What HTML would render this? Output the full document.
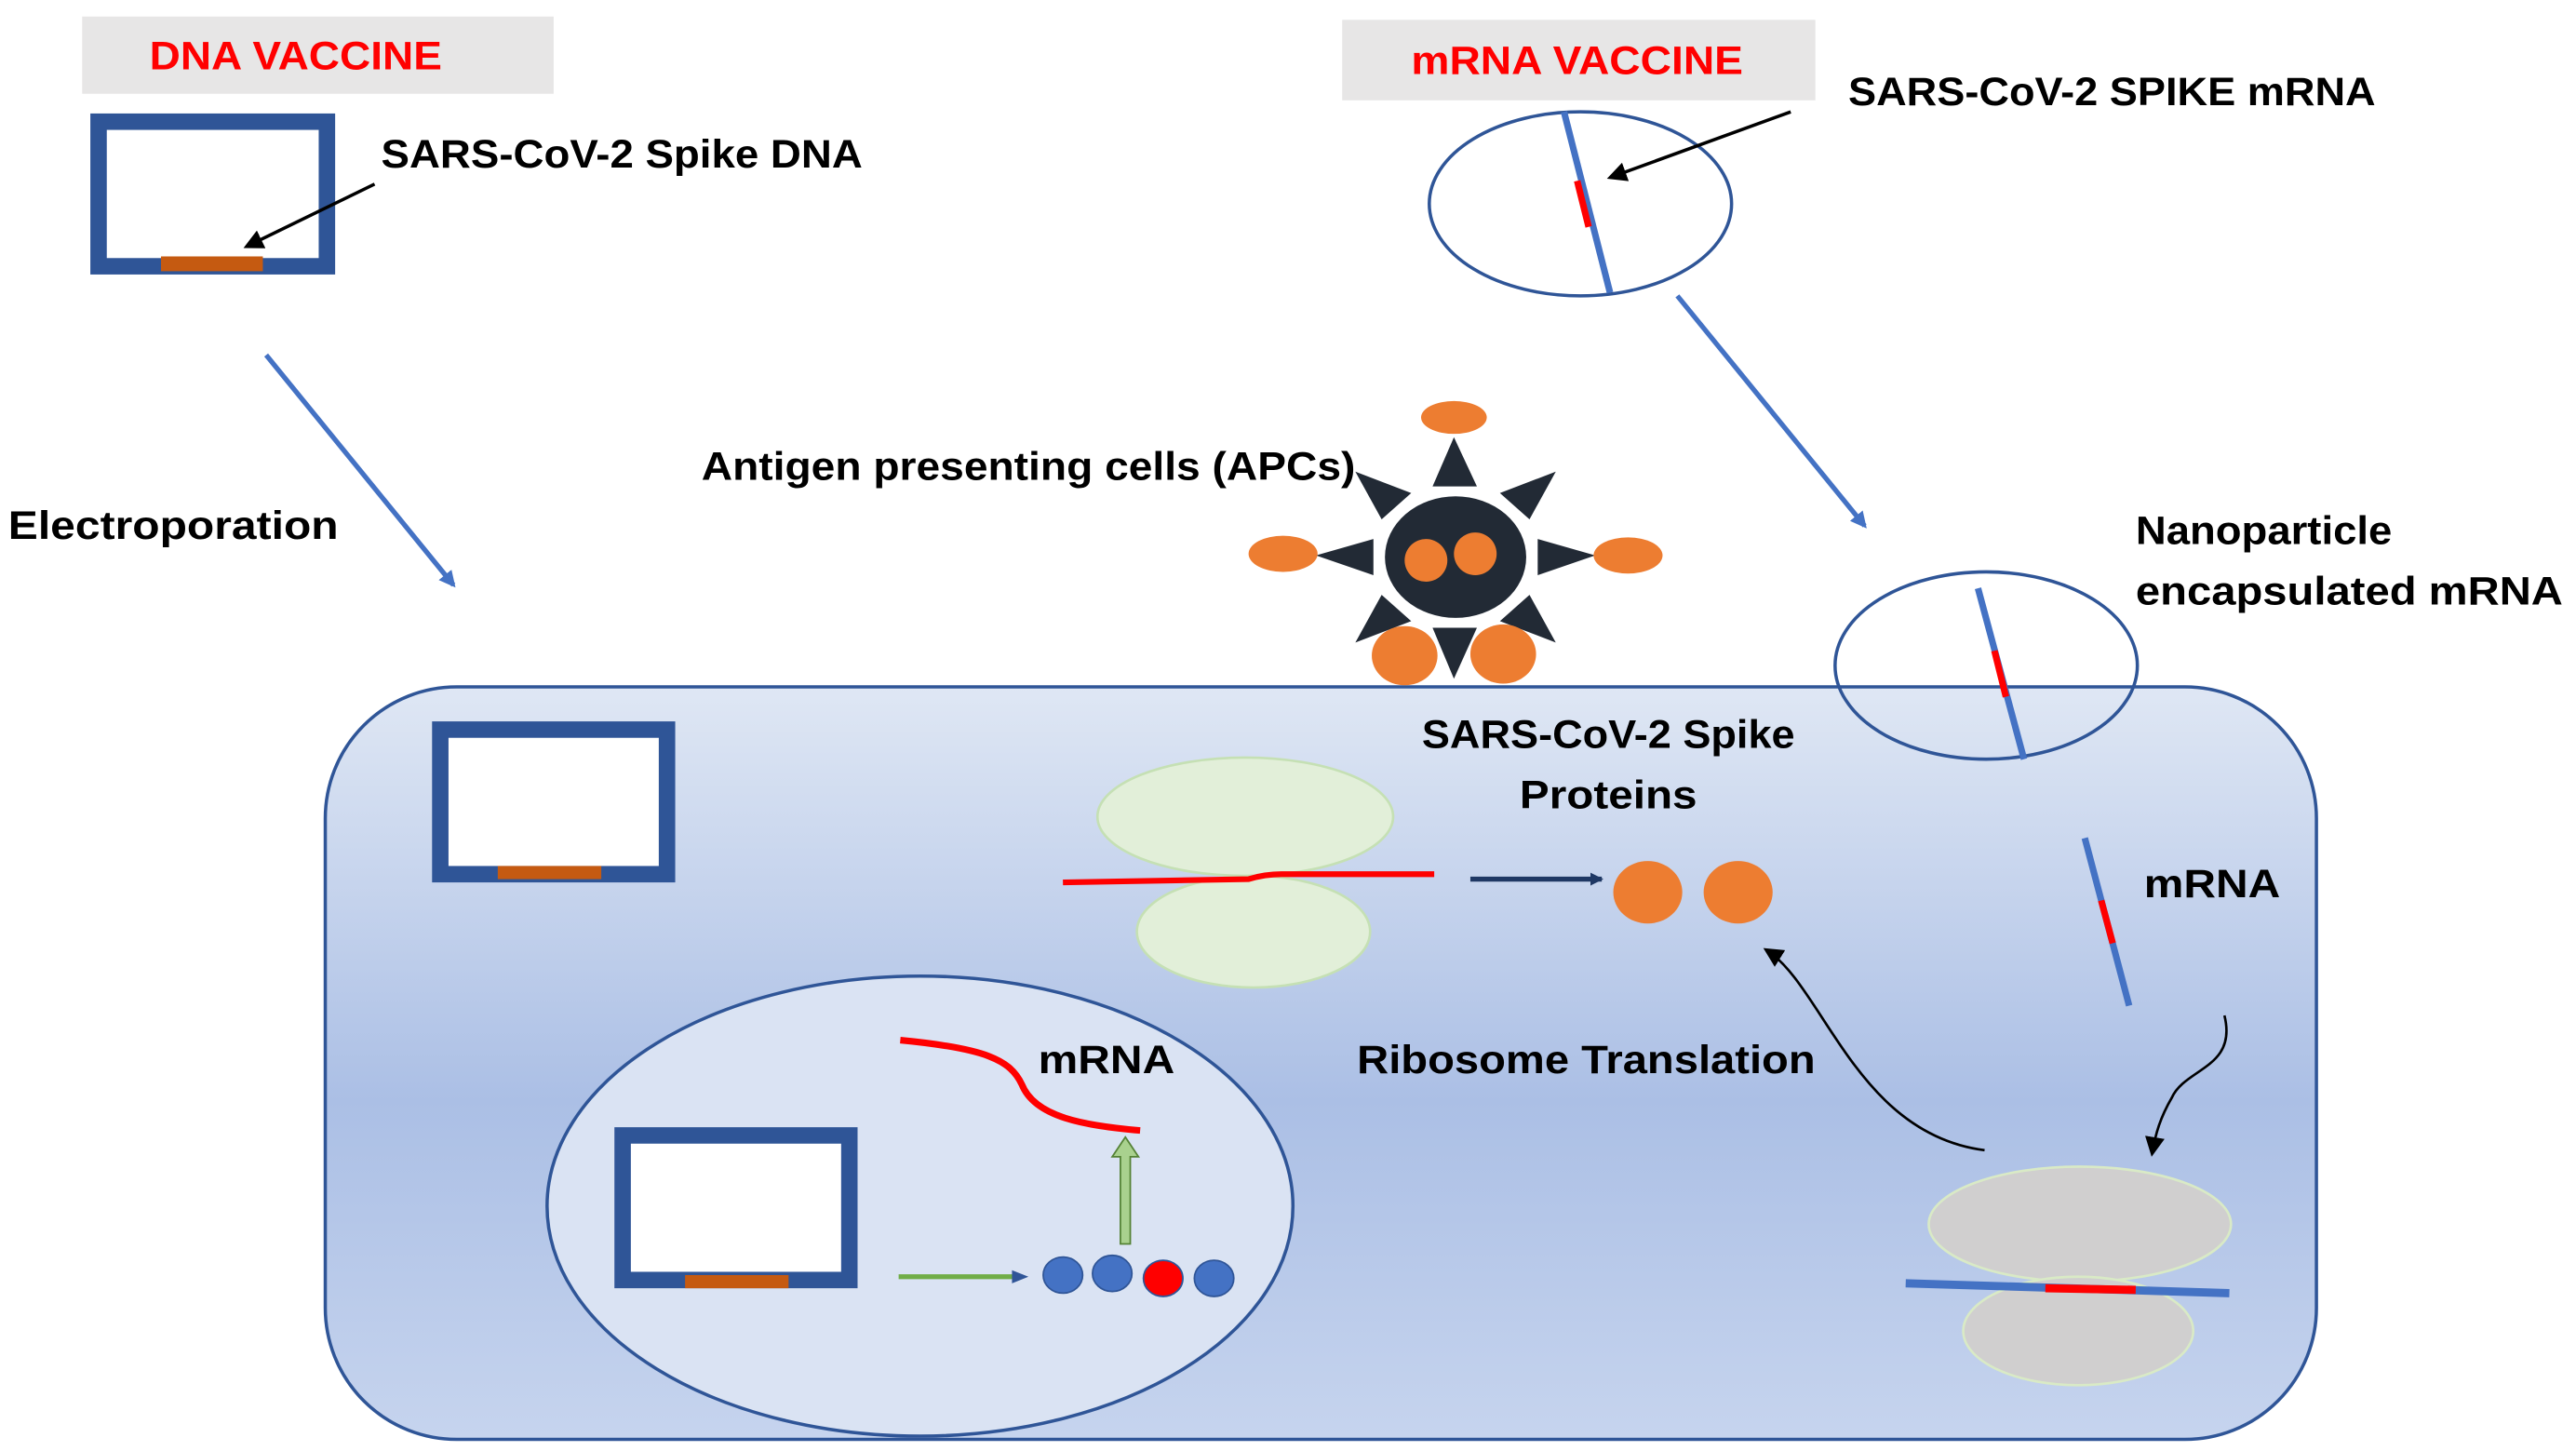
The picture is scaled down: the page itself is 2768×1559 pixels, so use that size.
<!DOCTYPE html>
<html><head><meta charset="utf-8"><style>
html,body{margin:0;padding:0;background:#fff;}
svg{display:block;}
text{font-family:"Liberation Sans",Arial,sans-serif;font-weight:bold;}
</style></head><body>
<svg width="2768" height="1559" viewBox="0 0 1568 883" xmlns="http://www.w3.org/2000/svg">
<defs>
<linearGradient id="cg" x1="0" y1="0" x2="0" y2="1">
<stop offset="0" stop-color="#dfe7f4"/>
<stop offset="0.55" stop-color="#abbfe5"/>
<stop offset="1" stop-color="#c6d4ee"/>
</linearGradient>
<marker id="ab" markerWidth="10" markerHeight="10" refX="8" refY="5" orient="auto" markerUnits="userSpaceOnUse"><path d="M0,0 L10,5 L0,10 z" fill="#4472c4"/></marker>
<marker id="ak" markerWidth="12" markerHeight="12" refX="10" refY="6" orient="auto" markerUnits="userSpaceOnUse"><path d="M0,0 L12,6 L0,12 z" fill="#000"/></marker>
<marker id="an" markerWidth="8" markerHeight="8" refX="7" refY="4" orient="auto" markerUnits="userSpaceOnUse"><path d="M0,0 L8,4 L0,8 z" fill="#1f3864"/></marker>
</defs>
<rect width="1568" height="883" fill="#fff"/>

<!-- DNA vaccine -->
<rect x="50" y="10" width="287" height="47" fill="#e7e6e6"/>
<text x="180" y="42" font-size="24" fill="#ff0000" text-anchor="middle" textLength="178" lengthAdjust="spacingAndGlyphs">DNA VACCINE</text>
<rect x="60" y="74" width="139" height="88" fill="#fff" stroke="#2f5597" stroke-width="10"/>
<rect x="98" y="156" width="62" height="9" fill="#c55a11"/>
<text x="232" y="102" font-size="24" textLength="293" lengthAdjust="spacingAndGlyphs">SARS-CoV-2 Spike DNA</text>
<line x1="228" y1="112" x2="150" y2="150" stroke="#000" stroke-width="2" marker-end="url(#ak)"/>
<line x1="162" y1="216" x2="276" y2="356" stroke="#4472c4" stroke-width="3" marker-end="url(#ab)"/>
<text x="5" y="328" font-size="24" textLength="201" lengthAdjust="spacingAndGlyphs">Electroporation</text>

<!-- mRNA vaccine -->
<rect x="817" y="12" width="288" height="49" fill="#e7e6e6"/>
<text x="960" y="45" font-size="24" fill="#ff0000" text-anchor="middle" textLength="202" lengthAdjust="spacingAndGlyphs">mRNA VACCINE</text>
<ellipse cx="962" cy="124" rx="92" ry="56" fill="#fff" stroke="#2f5597" stroke-width="2"/>
<line x1="952" y1="68" x2="980" y2="178" stroke="#4472c4" stroke-width="4"/>
<line x1="960" y1="110" x2="967" y2="138" stroke="#ff0000" stroke-width="4"/>
<line x1="1090" y1="68" x2="980" y2="108" stroke="#000" stroke-width="2" marker-end="url(#ak)"/>
<text x="1125" y="64" font-size="24" textLength="321" lengthAdjust="spacingAndGlyphs">SARS-CoV-2 SPIKE mRNA</text>
<line x1="1021" y1="180" x2="1135" y2="320" stroke="#4472c4" stroke-width="3" marker-end="url(#ab)"/>

<!-- Cell -->
<rect x="198" y="418" width="1212" height="458" rx="80" ry="80" fill="url(#cg)" stroke="#2f5597" stroke-width="2"/>

<!-- Nanoparticle -->
<ellipse cx="1209" cy="405" rx="92" ry="57" fill="none" stroke="#2f5597" stroke-width="2"/>
<line x1="1204" y1="358" x2="1232" y2="462" stroke="#4472c4" stroke-width="4"/>
<line x1="1214" y1="396" x2="1221" y2="424" stroke="#ff0000" stroke-width="4"/>
<text x="1300" y="331" font-size="24" textLength="156" lengthAdjust="spacingAndGlyphs">Nanoparticle</text>
<text x="1300" y="368" font-size="24" textLength="260" lengthAdjust="spacingAndGlyphs">encapsulated mRNA</text>

<!-- APC -->
<text x="427" y="292" font-size="24" textLength="398" lengthAdjust="spacingAndGlyphs">Antigen presenting cells (APCs)</text>
<g fill="#222a35">
<polygon points="872,296 885,266 899,296"/>
<polygon points="872,382 885,413 899,382"/>
<polygon points="801,338 836,328 836,350"/>
<polygon points="971,338 936,328 936,350"/>
<polygon points="825,287 841,316 859,300"/>
<polygon points="947,287 931,316 913,300"/>
<polygon points="825,391 841,362 859,378"/>
<polygon points="947,391 931,362 913,378"/>
<ellipse cx="886" cy="339" rx="43" ry="37"/>
</g>
<circle cx="868" cy="341" r="13" fill="#ed7d31"/>
<circle cx="898" cy="337" r="13" fill="#ed7d31"/>
<ellipse cx="885" cy="254" rx="20" ry="10" fill="#ed7d31"/>
<ellipse cx="781" cy="337" rx="21" ry="11" fill="#ed7d31"/>
<ellipse cx="991" cy="338" rx="21" ry="11" fill="#ed7d31"/>
<ellipse cx="855" cy="399" rx="20" ry="18" fill="#ed7d31"/>
<ellipse cx="915" cy="398" rx="20" ry="18" fill="#ed7d31"/>

<!-- plasmid in cell -->
<rect x="268" y="444" width="138" height="88" fill="#fff" stroke="#2f5597" stroke-width="10"/>
<rect x="303" y="527" width="63" height="8" fill="#c55a11"/>

<!-- green ribosome -->
<ellipse cx="758" cy="497" rx="90" ry="36" fill="#e2efd9" stroke="#c5e0b4" stroke-width="1.5"/>
<ellipse cx="763" cy="567" rx="71" ry="34" fill="#e2efd9" stroke="#c5e0b4" stroke-width="1.5"/>
<path d="M647,537 L760,535 Q770,532 780,532 L873,532" stroke="#ff0000" stroke-width="3.5" fill="none"/>
<line x1="895" y1="535" x2="975" y2="535" stroke="#1f3864" stroke-width="3" marker-end="url(#an)"/>
<ellipse cx="1003" cy="543" rx="21" ry="19" fill="#ed7d31"/>
<ellipse cx="1058" cy="543" rx="21" ry="19" fill="#ed7d31"/>
<text x="979" y="455" font-size="24" text-anchor="middle" textLength="227" lengthAdjust="spacingAndGlyphs">SARS-CoV-2 Spike</text>
<text x="979" y="492" font-size="24" text-anchor="middle" textLength="108" lengthAdjust="spacingAndGlyphs">Proteins</text>
<text x="826" y="653" font-size="24" textLength="279" lengthAdjust="spacingAndGlyphs">Ribosome Translation</text>
<path d="M1208,700 C1130,690 1110,600 1075,578" stroke="#000" stroke-width="1.5" fill="none" marker-end="url(#ak)"/>

<!-- mRNA right -->
<line x1="1269" y1="510" x2="1296" y2="612" stroke="#4472c4" stroke-width="4"/>
<line x1="1279" y1="548" x2="1286" y2="574" stroke="#ff0000" stroke-width="4"/>
<text x="1305" y="546" font-size="24" textLength="83" lengthAdjust="spacingAndGlyphs">mRNA</text>
<path d="M1354,618 C1362,650 1330,650 1322,668 C1315,680 1312,690 1310,702" stroke="#000" stroke-width="1.5" fill="none" marker-end="url(#ak)"/>

<!-- gray ribosome -->
<ellipse cx="1266" cy="745" rx="92" ry="35" fill="#d0cfcf" stroke="#d9eac6" stroke-width="1.5"/>
<ellipse cx="1265" cy="810" rx="70" ry="33" fill="#d0cfcf" stroke="#d9eac6" stroke-width="1.5"/>
<line x1="1160" y1="781" x2="1357" y2="787" stroke="#4472c4" stroke-width="5"/>
<line x1="1245" y1="784" x2="1300" y2="785" stroke="#ff0000" stroke-width="5"/>

<!-- nucleus -->
<ellipse cx="560" cy="734" rx="227" ry="140" fill="#dae3f3" stroke="#2f5597" stroke-width="2"/>
<rect x="379" y="691" width="138" height="88" fill="#fff" stroke="#2f5597" stroke-width="10"/>
<rect x="417" y="776" width="63" height="8" fill="#c55a11"/>
<path d="M548,633 C600,638 615,645 622,660 C630,680 660,685 694,688" stroke="#ff0000" stroke-width="4" fill="none"/>
<text x="632" y="653" font-size="24" textLength="83" lengthAdjust="spacingAndGlyphs">mRNA</text>
<polygon points="682,757 688,757 688,704 693,704 685,692 677,704 682,704" fill="#a9d18e" stroke="#548235" stroke-width="1"/>
<line x1="547" y1="777" x2="618" y2="777" stroke="#70ad47" stroke-width="3"/>
<polygon points="616,773 626,777 616,781" fill="#2f5597"/>
<ellipse cx="647" cy="776" rx="12" ry="11" fill="#4472c4" stroke="#2f5597"/>
<ellipse cx="677" cy="775" rx="12" ry="11" fill="#4472c4" stroke="#2f5597"/>
<ellipse cx="708" cy="778" rx="12" ry="11" fill="#ff0000" stroke="#2f5597"/>
<ellipse cx="739" cy="778" rx="12" ry="11" fill="#4472c4" stroke="#2f5597"/>
</svg>
</body></html>
